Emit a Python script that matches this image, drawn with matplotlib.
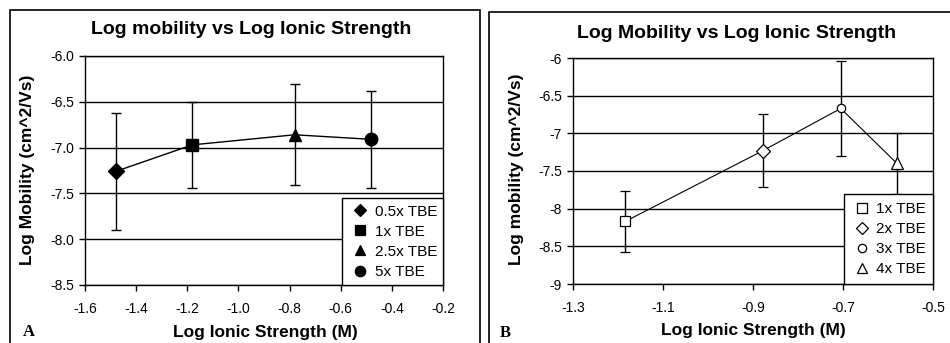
import matplotlib
matplotlib.use("Agg")
import matplotlib.pyplot as plt
from matplotlib.patches import Rectangle
from matplotlib.lines import Line2D
from matplotlib.ticker import FormatStrFormatter, FuncFormatter

plt.rcParams['font.family'] = ['Liberation Sans', 'DejaVu Sans']

# panel A data
a_labels = ['0.5x TBE', '1x TBE', '2.5x TBE', '5x TBE']
a_x = [-1.48, -1.18, -0.78, -0.48]
a_y = [-7.26, -6.97, -6.86, -6.91]
a_err = [0.64, 0.47, 0.55, 0.53]
a_markers = ['D', 's', '^', 'o']

# panel B data
b_labels = ['1x TBE', '2x TBE', '3x TBE', '4x TBE']
b_x = [-1.184, -0.878, -0.705, -0.580]
b_y = [-8.17, -7.23, -6.67, -7.40]
b_err = [0.41, 0.48, 0.63, 0.40]
b_markers = ['s', 'D', 'o', '^']

W, H = 950, 343
fig = plt.figure(figsize=(W / 100, H / 100), dpi=100)

# panel frames
fig.patches.append(Rectangle((10 / W, -0.1), 470 / W, 1.1 - 10 / H, transform=fig.transFigure,
                             fill=False, edgecolor='black', lw=1.2))
fig.patches.append(Rectangle((489 / W, -0.1), 0.6, 1.1 - 11.5 / H, transform=fig.transFigure,
                             fill=False, edgecolor='black', lw=1.2))


def style_axes(ax):
    for s in ax.spines.values():
        s.set_linewidth(1.0)
        s.set_color('black')
    ax.tick_params(direction='out', length=4, width=1, labelsize=10, colors='black')
    ax.tick_params(axis='x', pad=8)
    ax.tick_params(axis='y', pad=4)
    ax.yaxis.grid(True, color='black', lw=1.0)
    ax.set_axisbelow(True)


def fig_ax(left, top, right, bottom):
    return fig.add_axes([left / W, 1 - bottom / H, (right - left) / W, (bottom - top) / H])


def marker_legend(ax, markers, labels, sizes, filled, handlelength, borderpad):
    handles = []
    for m, s in zip(markers, sizes):
        handles.append(Line2D([], [], ls='none', marker=m, ms=s, color='black',
                              mfc='black' if filled else 'white', mec='black', mew=0.9))
    leg = ax.legend(handles, labels, loc='lower right', bbox_to_anchor=(1.0, 0.0),
                    borderaxespad=0, fontsize=11, frameon=True, fancybox=False,
                    edgecolor='black', framealpha=1, handletextpad=0.2, labelspacing=0.4,
                    handlelength=handlelength, borderpad=borderpad)
    leg.get_frame().set_linewidth(1.0)
    return leg


# ---- A
axA = fig_ax(85, 56, 443, 285)
style_axes(axA)
axA.plot(a_x, a_y, color='black', lw=1.0, zorder=3)
a_sizes = [8.5, 8.5, 9, 9]
for xi, yi, ei, m, s in zip(a_x, a_y, a_err, a_markers, a_sizes):
    axA.errorbar([xi], [yi], yerr=[ei], fmt=m, color='black', ms=s, ecolor='black',
                 elinewidth=1.0, capsize=3.3, capthick=1.0, zorder=4)
axA.set_xlim(-1.6, -0.2)
axA.set_ylim(-8.5, -6.0)
axA.set_xticks([-1.6, -1.4, -1.2, -1.0, -0.8, -0.6, -0.4, -0.2])
axA.set_yticks([-8.5, -8.0, -7.5, -7.0, -6.5, -6.0])
axA.xaxis.set_major_formatter(FormatStrFormatter('%.1f'))
axA.yaxis.set_major_formatter(FormatStrFormatter('%.1f'))
marker_legend(axA, a_markers, a_labels, [6.5, 6.5, 7, 7.5], True, 1.5, 0.4)

fig.text(251 / W, 1 - 30 / H, 'Log mobility vs Log Ionic Strength', ha='center', va='center',
         fontsize=14, fontweight='bold')
fig.text(265 / W, 1 - 332 / H, 'Log Ionic Strength (M)', ha='center', va='center',
         fontsize=12.5, fontweight='bold')
fig.text(28 / W, 1 - 170 / H, 'Log Mobility (cm^2/Vs)', ha='center', va='center',
         fontsize=12.5, fontweight='bold', rotation=90)
fig.text(28.5 / W, 1 - 332 / H, 'A', ha='center', va='center', fontsize=12,
         fontweight='bold', family='Liberation Serif')

# ---- B
axB = fig_ax(573, 58, 933, 284)
style_axes(axB)
axB.plot(b_x, b_y, color='black', lw=0.8, zorder=3)
b_sizes = [7, 7, 6, 8]
for xi, yi, ei, m, s in zip(b_x, b_y, b_err, b_markers, b_sizes):
    axB.errorbar([xi], [yi], yerr=[ei], fmt=m, color='black', mfc='white', mec='black',
                 mew=0.9, ms=s, ecolor='black', elinewidth=1.0, capsize=3.5, capthick=1.0,
                 zorder=4)
axB.set_xlim(-1.3, -0.5)
axB.set_ylim(-9, -6)
axB.set_xticks([-1.3, -1.1, -0.9, -0.7, -0.5])
axB.set_yticks([-9, -8.5, -8, -7.5, -7, -6.5, -6])
axB.xaxis.set_major_formatter(FormatStrFormatter('%.1f'))
axB.yaxis.set_major_formatter(FuncFormatter(lambda v, p: '%g' % v))
marker_legend(axB, b_markers, b_labels, [7, 6.5, 6, 7.5], False, 1.4, 0.5)

fig.text(737 / W, 1 - 33 / H, 'Log Mobility vs Log Ionic Strength', ha='center', va='center',
         fontsize=14, fontweight='bold')
fig.text(753 / W, 1 - 331 / H, 'Log Ionic Strength (M)', ha='center', va='center',
         fontsize=12.5, fontweight='bold')
fig.text(517 / W, 1 - 169 / H, 'Log mobility (cm^2/Vs)', ha='center', va='center',
         fontsize=12.5, fontweight='bold', rotation=90)
fig.text(505 / W, 1 - 333 / H, 'B', ha='center', va='center', fontsize=12,
         fontweight='bold', family='Liberation Serif')

fig.savefig('out.png', dpi=100, facecolor='white')
